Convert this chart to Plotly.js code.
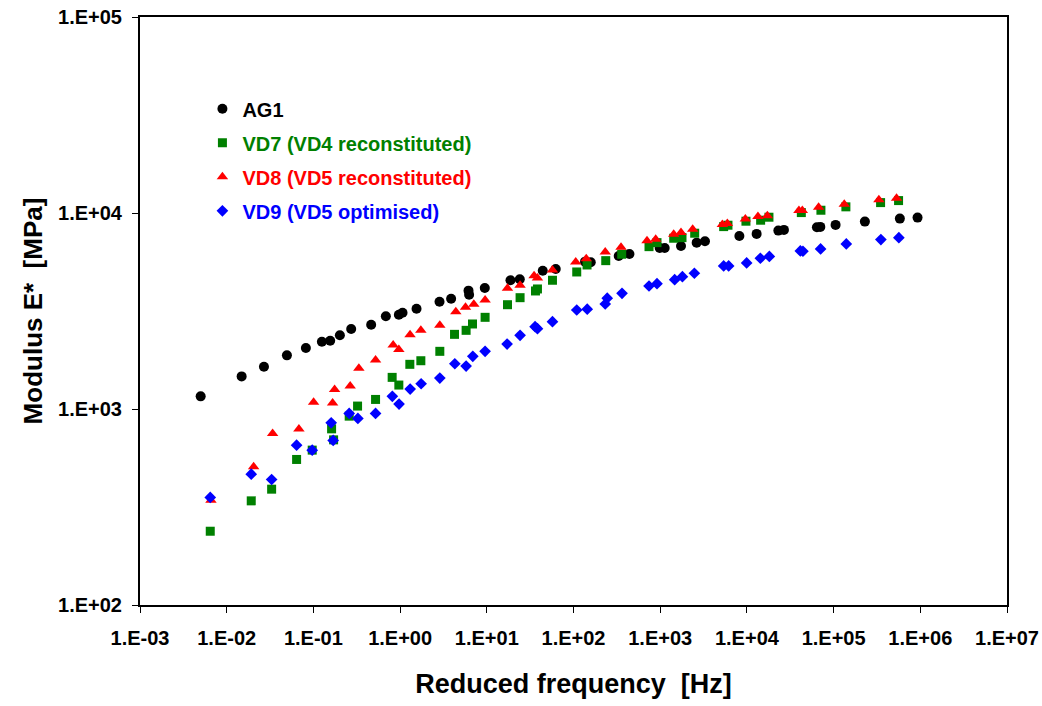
<!DOCTYPE html>
<html>
<head>
<meta charset="utf-8">
<script src="https://cdn.plot.ly/plotly-3.0.1.min.js"></script>
<style>
  html, body { margin: 0; padding: 0; background: #fff; }
  #chart { width: 1042px; height: 706px; }
</style>
</head>
<body>
<div id="chart"></div>
<script>
// Reduced frequency [Hz] and modulus E* [MPa]
const ag1_x = [0.00501, 0.01487, 0.0269, 0.0495, 0.0819, 0.1253, 0.1562, 0.202, 0.2727, 0.4637,
  0.685, 0.967, 1.067, 1.547, 2.849, 3.877, 6.152, 6.252, 9.48, 18.76, 24.01, 44.2, 62.4,
  135.9, 158.1, 332.3, 441.6, 986.7, 1127, 1737, 2634, 3284, 8185, 12950, 23040, 26740,
  64200, 70270, 105400, 229500, 581300, 929600];
const ag1_y = [1160, 1467, 1643, 1878, 2046, 2204, 2230, 2376, 2559, 2692,
  2971, 3028, 3100, 3249, 3528, 3654, 4016, 3831, 4145, 4538, 4591, 5078, 5181,
  5646, 5606, 6038, 6181, 6633, 6633, 6792, 7060, 7178, 7638, 7824, 8132, 8200,
  8464, 8492, 8695, 9040, 9363, 9474];

const vd7_x = [0.00646, 0.01919, 0.03298, 0.0640, 0.0969, 0.1621, 0.171, 0.2587, 0.3232, 0.5212,
  0.8099, 0.967, 1.295, 1.735, 2.872, 4.244, 5.772, 6.842, 9.559, 17.32, 24.2, 36.42, 38.4,
  57.2, 109, 143.3, 235.4, 359.9, 742.9, 918.5, 1431, 1784, 2499, 5395, 6048, 9752,
  14400, 17960, 42440, 71400, 138600, 348300, 561500];
const vd7_y = [237.9, 339.9, 389.9, 552.8, 616.8, 792, 696, 919.5, 1035, 1119,
  1450, 1325, 1690, 1763, 1969, 2404, 2520, 2715, 2936, 3405, 3698, 4001, 4097,
  4538, 5002, 5430, 5713, 6160, 6735, 7060, 7434, 7487, 7887, 8522, 8664, 9082,
  9188, 9517, 10050, 10330, 10750, 11300, 11570];

const vd8_x = [0.00658, 0.02045, 0.03386, 0.06805, 0.1005, 0.1665, 0.1756, 0.2656, 0.3345, 0.5212,
  0.8316, 0.967, 1.302, 1.735, 2.872, 4.392, 5.681, 7.083, 9.559, 17.32, 24.2, 35.1, 38.4,
  57.2, 106.1, 140.3, 232.3, 353.3, 704.4, 887.4, 1431, 1737, 2370, 5212, 5950, 9596,
  13410, 17210, 39810, 43580, 67170, 132800, 332900, 532400];
const vd8_y = [342.6, 506.8, 750.5, 789.5, 1084, 1072, 1259, 1309, 1612, 1777,
  2120, 2011, 2390, 2520, 2673, 3137, 3303, 3421, 3599, 4129, 4277, 4789, 4661,
  5121, 5627, 5849, 6329, 6687, 7228, 7349, 7795, 7943, 8267, 8727, 8830, 9330,
  9585, 9687, 10290, 10290, 10710, 11090, 11670, 11900];

const vd9_x = [0.00646, 0.01919, 0.03298, 0.0640, 0.0969, 0.1604, 0.1691, 0.2587, 0.3258, 0.5212,
  0.814, 0.9725, 1.306, 1.748, 2.872, 4.277, 5.772, 6.896, 9.559, 17.14, 24.2, 36.04, 38.4,
  57.2, 109, 144, 232.3, 244.9, 362.8, 742.9, 918.5, 1469, 1803, 2479, 5395, 6160,
  9933, 14290, 18150, 41320, 44280, 70810, 140100, 351000, 565900];
const vd9_y = [353.7, 465.1, 436.9, 654.1, 616.8, 850.1, 691, 949.5, 895.4, 949.5,
  1160, 1059, 1264, 1345, 1438, 1702, 1656, 1856, 1969, 2145, 2376, 2629, 2568,
  2788, 3200, 3230, 3434, 3677, 3894, 4243, 4358, 4570, 4734, 4926, 5367, 5367,
  5560, 5877, 6003, 6403, 6381, 6555, 6954, 7315, 7487];

const seriesNames = ['AG1', 'VD7 (VD4 reconstituted)', 'VD8 (VD5 reconstituted)', 'VD9 (VD5 optimised)'];

const xTickVals = [1e-3, 1e-2, 1e-1, 1e0, 1e1, 1e2, 1e3, 1e4, 1e5, 1e6, 1e7];
const xTickText = ['1.E-03', '1.E-02', '1.E-01', '1.E+00', '1.E+01', '1.E+02', '1.E+03', '1.E+04', '1.E+05', '1.E+06', '1.E+07'];
const yTickVals = [1e2, 1e3, 1e4, 1e5];
const yTickText = ['1.E+02', '1.E+03', '1.E+04', '1.E+05'];

const FONT = 'Liberation Sans, Arial, sans-serif';
const colors = ['#000000', '#008000', '#FF0000', '#0000FF'];
const symbols = ['circle', 'square', 'triangle-up', 'diamond'];
const sizes = [10, 9, 10, 9];
const xs = [ag1_x, vd7_x, vd8_x, vd9_x];
const ys = [ag1_y, vd7_y, vd8_y, vd9_y];

const traces = seriesNames.map((n, i) => ({
  type: 'scatter',
  mode: 'markers',
  x: xs[i],
  y: ys[i],
  name: '<span style="color:' + colors[i] + '">' + n + '</span>',
  legendgroup: 'g' + i,
  marker: { symbol: symbols[i], size: sizes[i], color: colors[i], line: { width: 0 } }
}));

const layout = {
  width: 1042,
  height: 706,
  margin: { l: 140, r: 35, t: 17, b: 101 },
  paper_bgcolor: '#ffffff',
  plot_bgcolor: '#ffffff',
  font: { family: FONT, color: '#000000' },
  showlegend: true,
  legend: {
    x: 0.072, y: 0.877, xanchor: 'left', yanchor: 'top',
    bgcolor: 'rgba(0,0,0,0)',
    font: { family: FONT, size: 20, weight: 'bold', color: '#000000' },
    tracegroupgap: 5,
    itemwidth: 30
  },
  xaxis: {
    type: 'log',
    range: [-3, 7],
    tickmode: 'array',
    tickvals: xTickVals,
    ticktext: xTickText,
    ticks: 'outside',
    ticklen: 6,
    tickwidth: 1,
    tickcolor: '#000000',
    ticklabelstandoff: 8,
    tickfont: { family: FONT, size: 20, weight: 'bold', color: '#000000' },
    showgrid: false,
    zeroline: false,
    showline: true,
    linecolor: '#000000',
    linewidth: 2,
    mirror: true,
    title: { text: 'Reduced frequency  [Hz]', font: { family: FONT, size: 27, weight: 'bold', color: '#000000' }, standoff: 26 }
  },
  yaxis: {
    type: 'log',
    range: [2, 5],
    tickmode: 'array',
    tickvals: yTickVals,
    ticktext: yTickText,
    ticks: 'outside',
    ticklen: 6,
    tickwidth: 1,
    tickcolor: '#000000',
    ticklabelstandoff: 6,
    tickfont: { family: FONT, size: 20, weight: 'bold', color: '#000000' },
    showgrid: false,
    zeroline: false,
    showline: true,
    linecolor: '#000000',
    linewidth: 2,
    mirror: true,
    title: { text: 'Modulus E*  [MPa]', font: { family: FONT, size: 26, weight: 'bold', color: '#000000' }, standoff: 8 }
  }
};

Plotly.newPlot('chart', traces, layout, { displayModeBar: false, staticPlot: true });
</script>
</body>
</html>
